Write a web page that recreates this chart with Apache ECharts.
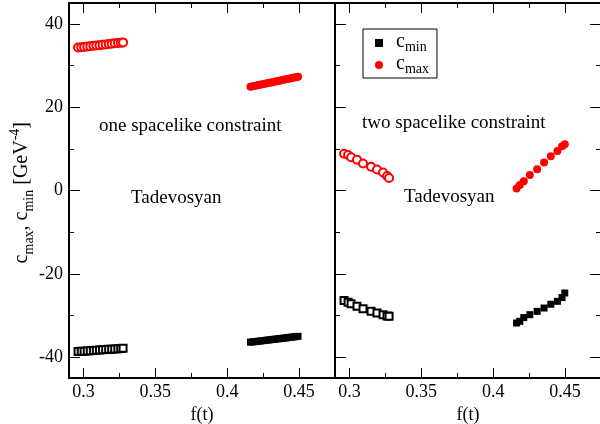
<!DOCTYPE html>
<html lang="en">
<head>
    <meta charset="UTF-8">
    <title>c_max, c_min vs f(t)</title>
    <script src="https://cdn.jsdelivr.net/npm/echarts@6.0.0/dist/echarts.min.js"></script>
    <style>
        body { margin: 0; background: #fff; }
        #chart { width: 600px; height: 424px; }
    </style>
</head>
<body>
    <div id="chart"></div>
    <script>
        // tick values
        var majorX = [0.3, 0.35, 0.4, 0.45];
        var minorX = [0.325, 0.375, 0.425];
        var majorY = [-40, -20, 0, 20, 40];
        var minorY = [-30, -10, 10, 30];

        // left panel: one spacelike constraint (dense points)
        var fOpenL = [0.2963, 0.2985, 0.3005, 0.3027, 0.3048, 0.307, 0.309, 0.3112, 0.3133, 0.3155, 0.3176, 0.3197, 0.3218, 0.324, 0.326, 0.3276];
        var cmaxOpenL = [34.30, 34.38, 34.47, 34.55, 34.64, 34.72, 34.81, 34.89, 34.98, 35.06, 35.15, 35.23, 35.32, 35.40, 35.49, 35.55];
        var cminOpenL = [-38.65, -38.60, -38.55, -38.50, -38.44, -38.39, -38.34, -38.29, -38.23, -38.18, -38.12, -38.07, -38.02, -37.96, -37.90, -37.86];
        var fFillL = [0.4162, 0.4176, 0.419, 0.4205, 0.422, 0.4234, 0.4248, 0.4263, 0.4277, 0.4292, 0.4306, 0.4321, 0.4335, 0.435, 0.4364, 0.4378, 0.4393, 0.4407, 0.4421, 0.4436, 0.445, 0.4464, 0.4479, 0.4493];
        var cmaxFillL = [24.90, 25.00, 25.10, 25.21, 25.31, 25.42, 25.52, 25.63, 25.73, 25.84, 25.94, 26.05, 26.15, 26.26, 26.36, 26.47, 26.57, 26.68, 26.78, 26.89, 26.99, 27.10, 27.20, 27.30];
        var cminFillL = [-36.40, -36.34, -36.28, -36.22, -36.16, -36.10, -36.04, -35.98, -35.92, -35.86, -35.79, -35.73, -35.67, -35.61, -35.55, -35.49, -35.43, -35.37, -35.31, -35.24, -35.18, -35.12, -35.06, -35.00];

        // right panel: two spacelike constraint
        var fOpenR = [0.2963, 0.2991, 0.3012, 0.3053, 0.3095, 0.3151, 0.3192, 0.3234, 0.3262, 0.3276];
        var cmaxOpenR = [8.8, 8.5, 8.0, 7.36, 6.5, 5.7, 5.05, 4.33, 3.5, 3.0];
        var cminOpenR = [-26.4, -26.8, -27.2, -27.8, -28.4, -29.0, -29.4, -29.8, -30.1, -30.2];
        var fFillR = [0.4163, 0.4185, 0.4213, 0.4255, 0.4306, 0.4354, 0.4401, 0.4447, 0.4479, 0.4498];
        var cmaxFillR = [0.5, 1.3, 2.2, 3.7, 5.1, 6.7, 8.25, 9.5, 10.65, 11.1];
        var cminFillR = [-31.8, -31.4, -30.5, -29.8, -29.0, -28.2, -27.3, -26.6, -25.7, -24.6];

        var serif = 'Liberation Serif';
        var myChart = echarts.init(document.getElementById('chart'));

        function pts(xs, ys) {
            return xs.map(function (x, i) { return [x, ys[i]]; });
        }

        // one grid gets 4 x axes: bottom major/minor, top major/minor
        function xAxes(grid) {
            var base = {
                gridIndex: grid, type: 'value', min: 0.29, max: 0.475,
                splitLine: { show: false }
            };
            var line = { show: true, onZero: false, lineStyle: { color: '#000', width: 2 } };
            var noLine = { show: false, onZero: false };
            return [
                Object.assign({}, base, {
                    position: 'bottom', axisLine: line,
                    name: 'f(t)', nameLocation: 'middle', nameGap: 23,
                    nameTextStyle: { fontFamily: serif, fontSize: 18, color: '#000' },
                    axisTick: { inside: true, length: 10, customValues: majorX, lineStyle: { color: '#000' } },
                    axisLabel: { customValues: majorX, margin: 5, fontFamily: serif, fontSize: 18, color: '#000' }
                }),
                Object.assign({}, base, {
                    position: 'bottom', axisLine: noLine, axisLabel: { show: false },
                    axisTick: { inside: true, length: 5, customValues: minorX, lineStyle: { color: '#000' } }
                }),
                Object.assign({}, base, {
                    position: 'top', axisLine: line, axisLabel: { show: false },
                    axisTick: { inside: true, length: 10, customValues: majorX, lineStyle: { color: '#000' } }
                }),
                Object.assign({}, base, {
                    position: 'top', axisLine: noLine, axisLabel: { show: false },
                    axisTick: { inside: true, length: 5, customValues: minorX, lineStyle: { color: '#000' } }
                })
            ];
        }

        function yAxis(grid, pos, labels, minor) {
            return {
                gridIndex: grid, type: 'value', min: -45, max: 45, position: pos,
                splitLine: { show: false },
                axisLine: { show: !minor, onZero: false, lineStyle: { color: '#000', width: 2 } },
                axisTick: {
                    inside: true, length: minor ? 5 : 11,
                    customValues: minor ? minorY : majorY, lineStyle: { color: '#000' }
                },
                axisLabel: {
                    show: labels, customValues: majorY, margin: 6,
                    fontFamily: serif, fontSize: 18, color: '#000'
                }
            };
        }

        function scatter(name, sym, size, color, x, y, data) {
            return {
                name: name, type: 'scatter', xAxisIndex: x, yAxisIndex: y,
                symbol: sym, symbolSize: size, data: data,
                itemStyle: { color: color, borderWidth: 1, opacity: 1 },
                emphasis: { disabled: true }
            };
        }

        var textStyle = { fontFamily: serif, fontSize: 19, fill: '#000' };

        var option = {
            animation: false,
            grid: [
                { left: 69, top: 3, width: 266, height: 375, outerBoundsMode: 'none' },
                { left: 335, top: 3, width: 266, height: 375, outerBoundsMode: 'none' }
            ],
            xAxis: xAxes(0).concat(xAxes(1)),
            yAxis: [
                yAxis(0, 'left', true, false),
                yAxis(0, 'left', false, true),
                yAxis(1, 'left', false, false),
                yAxis(1, 'left', false, true),
                yAxis(1, 'right', false, false),
                yAxis(1, 'right', false, true)
            ],
            legend: {
                left: 363, top: 29, orient: 'vertical',
                data: [{ name: 'cmin', icon: 'rect' }, { name: 'cmax', icon: 'circle' }],
                selectedMode: false,
                itemWidth: 8, itemHeight: 8, itemGap: 0,
                padding: [3, 8, 2, 12],
                borderColor: '#000', borderWidth: 1, borderRadius: 0,
                formatter: function (n) {
                    return n === 'cmin' ? '{a|c}{b|min}' : '{a|c}{b|max}';
                },
                textStyle: {
                    color: '#000',
                    rich: {
                        a: { fontFamily: serif, fontSize: 20, lineHeight: 16, verticalAlign: 'top', padding: [0, 0, 0, 8] },
                        b: { fontFamily: serif, fontSize: 14, padding: [8, 0, 0, 0] }
                    }
                }
            },
            graphic: [
                { type: 'text', left: 99, top: 117, style: Object.assign({ text: 'one spacelike constraint' }, textStyle) },
                { type: 'text', left: 131, top: 189, style: Object.assign({ text: 'Tadevosyan' }, textStyle) },
                { type: 'text', left: 362, top: 114, style: Object.assign({ text: 'two spacelike constraint' }, textStyle) },
                { type: 'text', left: 404, top: 188, style: Object.assign({ text: 'Tadevosyan' }, textStyle) },
                {
                    type: 'text', left: 8, top: 122, rotation: Math.PI / 2,
                    style: {
                        text: '{a|c}{s|max}{a|, c}{s|min}{a| [GeV}{p|-4}{a|]}',
                        fill: '#000',
                        rich: {
                            a: { fontFamily: serif, fontSize: 20, lineHeight: 28, verticalAlign: 'middle' },
                            s: { fontFamily: serif, fontSize: 14, verticalAlign: 'bottom' },
                            p: { fontFamily: serif, fontSize: 14, verticalAlign: 'top' }
                        }
                    }
                }
            ],
            series: [
                scatter('cmax open L', 'emptyCircle', 8, '#f00', 0, 0, pts(fOpenL, cmaxOpenL)),
                scatter('cmin open L', 'emptyRect', 7, '#000', 0, 0, pts(fOpenL, cminOpenL)),
                scatter('cmax', 'circle', 8, '#f00', 0, 0, pts(fFillL, cmaxFillL)),
                scatter('cmin', 'rect', 7, '#000', 0, 0, pts(fFillL, cminFillL)),
                scatter('cmax open R', 'emptyCircle', 8, '#f00', 4, 2, pts(fOpenR, cmaxOpenR)),
                scatter('cmin open R', 'emptyRect', 7, '#000', 4, 2, pts(fOpenR, cminOpenR)),
                scatter('cmax', 'circle', 8, '#f00', 4, 2, pts(fFillR, cmaxFillR)),
                scatter('cmin', 'rect', 7, '#000', 4, 2, pts(fFillR, cminFillR))
            ]
        };

        myChart.setOption(option);
    </script>
</body>
</html>
